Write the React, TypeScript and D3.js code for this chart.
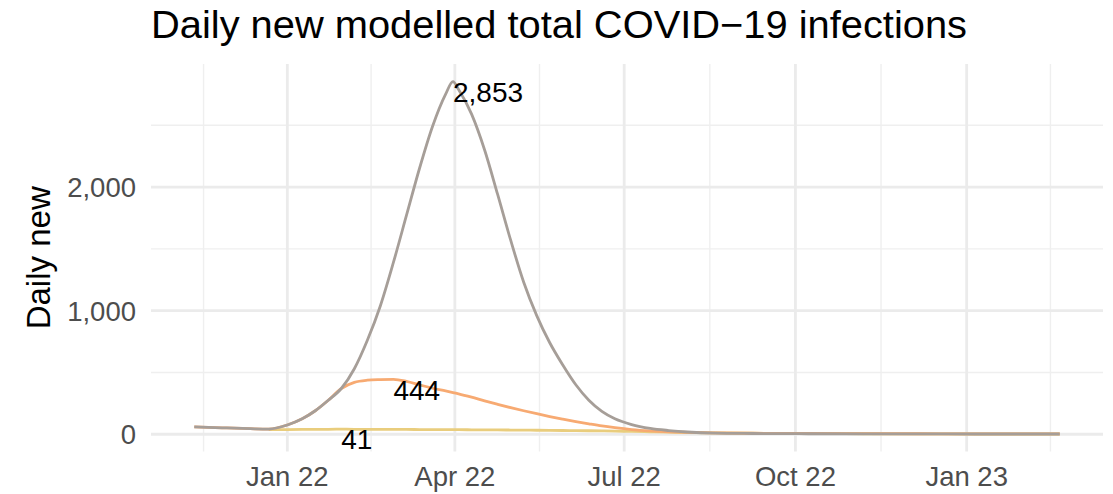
import React from 'react';
import * as d3 from 'd3';

// sample dates
const dates = [
  '2021-11-12', '2021-11-27', '2021-12-12', '2021-12-22', '2022-01-01', '2022-01-09',
  '2022-01-16', '2022-01-23', '2022-01-30', '2022-02-06', '2022-02-13', '2022-02-20',
  '2022-02-27', '2022-03-06', '2022-03-13', '2022-03-20', '2022-03-27', '2022-03-31',
  '2022-04-03', '2022-04-10', '2022-04-17', '2022-04-24', '2022-05-01', '2022-05-08',
  '2022-05-15', '2022-05-22', '2022-05-29', '2022-06-05', '2022-06-12', '2022-06-19',
  '2022-06-26', '2022-07-05', '2022-07-15', '2022-07-25', '2022-08-04', '2022-08-19',
  '2022-09-08', '2022-10-08', '2022-11-07', '2022-12-07', '2023-01-06', '2023-02-05',
  '2023-02-20',
];

const greySeries = [
  60, 52, 45, 42, 75, 125, 190, 275, 370, 530, 760, 1040, 1390, 1770, 2150, 2490, 2750, 2853,
  2790, 2590, 2300, 1940, 1570, 1230, 960, 740, 560, 400, 275, 185, 125, 78, 47, 30, 18, 9,
  6, 4, 3, 3, 2, 2, 2,
];

const orangeSeries = [
  60, 52, 45, 42, 75, 125, 190, 275, 370, 420, 437, 442, 444, 428, 400, 372, 350, 337,
  327, 300, 270, 242, 215, 190, 166, 143, 122, 102, 84, 67, 53, 38, 27, 20, 15, 11,
  8, 6, 5, 4, 3, 3, 3,
];

// yellow series only begins late December 2021
const yellowSeries: (number | null)[] = [
  null, null, null, 38, 38, 39, 40, 40, 41, 40, 40, 40, 39, 39, 38, 38, 37, 37,
  37, 36, 35, 35, 34, 33, 32, 31, 30, 29, 28, 27, 25, 23, 20, 17, 14, 11,
  8, 5, 4, 3, 2, 2, 2,
];

const xTickDates = ['2022-01-01', '2022-04-01', '2022-07-01', '2022-10-01', '2023-01-01'];
const yTicks = [0, 1000, 2000];
const yMinorTicks = [500, 1500, 2500];

const W = 1113;
const H = 494;
const panel = { left: 151, right: 1103, top: 64, bottom: 451.6 };
const FONT = '"Liberation Sans", Arial, Helvetica, sans-serif';

const parse = d3.utcParse('%Y-%m-%d');

export default function App() {
  const xDates = dates.map(d => parse(d) as Date);

  const tMin = d3.min(xDates)!.getTime();
  const tMax = d3.max(xDates)!.getTime();
  const tPad = (tMax - tMin) * 0.05;
  const x = d3.scaleUtc()
    .domain([new Date(tMin - tPad), new Date(tMax + tPad)])
    .range([panel.left, panel.right]);

  const all = [...greySeries, ...orangeSeries, ...yellowSeries].filter(v => v != null) as number[];
  const vMin = d3.min(all)!;
  const vMax = d3.max(all)!;
  const vPad = (vMax - vMin) * 0.05;
  const y = d3.scaleLinear()
    .domain([vMin - vPad, vMax + vPad])
    .range([panel.bottom, panel.top]);

  const majorX = xTickDates.map(d => parse(d) as Date);
  // minor breaks halfway between majors, extended both sides
  const step = majorX[1].getTime() - majorX[0].getTime();
  const extended = [majorX[0].getTime() - step, ...majorX.map(d => d.getTime()), majorX[majorX.length - 1].getTime() + step];
  const minorX = d3.pairs(extended)
    .map(([a, b]) => new Date((a + b) / 2))
    .filter(d => d >= x.domain()[0] && d <= x.domain()[1]);

  const line = d3.line<number | null>()
    .defined(d => d != null)
    .x((_, i) => x(xDates[i]))
    .y(d => y(d as number))
    .curve(d3.curveMonotoneX);

  const series = [
    { values: yellowSeries, color: '#E9CD7D' },
    { values: orangeSeries as (number | null)[], color: '#F7AA72' },
    { values: greySeries as (number | null)[], color: '#A69E98' },
  ];

  const fmtDate = d3.utcFormat('%b %y');
  const fmtNum = d3.format(',');

  return (
    <svg width={W} height={H} style={{ position: 'absolute', left: 0, top: 0, background: '#fff' }}
      fontFamily={FONT}>
      <rect width={W} height={H} fill="#fff" />

      {/* grid */}
      {yMinorTicks.map(v => (
        <line key={'ym' + v} x1={panel.left} x2={panel.right} y1={y(v)} y2={y(v)}
          stroke="#EFEFEF" strokeWidth={1.4} />
      ))}
      {minorX.map(d => (
        <line key={'xm' + d.getTime()} x1={x(d)} x2={x(d)} y1={panel.top} y2={panel.bottom}
          stroke="#EFEFEF" strokeWidth={1.4} />
      ))}
      {yTicks.map(v => (
        <line key={'y' + v} x1={panel.left} x2={panel.right} y1={y(v)} y2={y(v)}
          stroke="#EBEBEB" strokeWidth={2.8} />
      ))}
      {majorX.map(d => (
        <line key={'x' + d.getTime()} x1={x(d)} x2={x(d)} y1={panel.top} y2={panel.bottom}
          stroke="#EBEBEB" strokeWidth={2.8} />
      ))}

      {/* lines */}
      {series.map((s, i) => (
        <path key={i} d={line(s.values) || ''} fill="none" stroke={s.color}
          strokeWidth={2.8} strokeLinejoin="round" />
      ))}

      {/* peak labels */}
      {series.map((s, i) => {
        const vals = s.values.map(v => (v == null ? -Infinity : v));
        const k = d3.maxIndex(vals);
        return (
          <text key={'lab' + i} x={x(xDates[k])} y={y(vals[k])} dy="0.72em"
            fontSize={28} fill="#000">{fmtNum(vals[k])}</text>
        );
      })}

      {/* axes text */}
      {yTicks.map(v => (
        <text key={'yt' + v} x={136} y={y(v)} dy="0.36em" textAnchor="end"
          fontSize={27.5} fill="#4D4D4D">{fmtNum(v)}</text>
      ))}
      {majorX.map(d => (
        <text key={'xt' + d.getTime()} x={x(d)} y={486} textAnchor="middle"
          fontSize={27.5} fill="#4D4D4D">{fmtDate(d)}</text>
      ))}

      <text transform={`translate(50,${(panel.top + panel.bottom) / 2}) rotate(-90)`}
        textAnchor="middle" fontSize={33} fill="#000">Daily new</text>

      <text x={151} y={38} fontSize={38} textLength={816} lengthAdjust="spacingAndGlyphs"
        fill="#000">Daily new modelled total COVID−19 infections</text>
    </svg>
  );
}
